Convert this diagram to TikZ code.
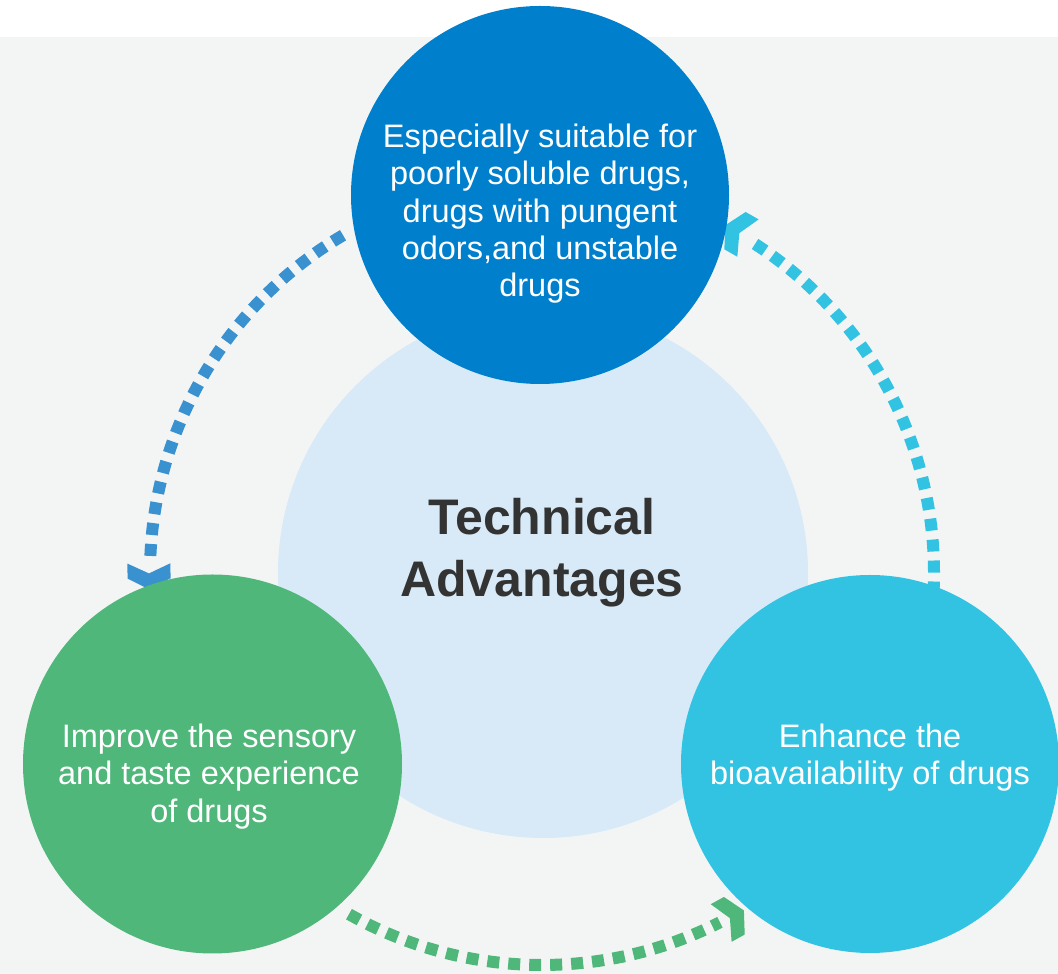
\documentclass[tikz,border=0pt]{standalone}
\usepackage{fontspec}
\setmainfont{Liberation Sans}
\definecolor{bggray}{HTML}{F3F5F5}
\definecolor{coreblue}{HTML}{D8EAF7}
\definecolor{topblue}{HTML}{0080CC}
\definecolor{leftgreen}{HTML}{50B77A}
\definecolor{rightcyan}{HTML}{32C3E3}
\definecolor{dashblue}{HTML}{3A91D0}
\definecolor{titlegray}{HTML}{333333}
\tikzset{
  bubble/.style={circle, inner sep=0pt, minimum size=#1, draw=none},
  bubtext/.style={text=white, align=center, inner sep=0pt,
    font=\fontsize{32.5}{37.3}\selectfont},
  titletext/.style={text=titlegray, align=center, inner sep=0pt,
    font=\fontsize{50}{62}\selectfont\bfseries},
  dasharc/.style={line width=12pt, dash pattern=on 12pt off 9pt}
}
\newcommand\mychev[2]{\fill[#1, shift={(hub)}, rotate=#2]
  (414.5,-13) -- (393,-3) -- (371.5,-13) -- (371.5,2) -- (393,13) -- (414.5,2) -- cycle;}
\begin{document}
\begin{tikzpicture}[x=1pt,y=1pt]
\useasboundingbox (0,0) rectangle (1058,974);
\fill[white] (0,0) rectangle (1058,974);
\fill[bggray] (0,0) rectangle (1058,937);
\coordinate (hub) at (542,401);
% central circle
\node[bubble=530, fill=coreblue] (core) at (543,401) {};
% dashed arcs
\draw[dasharc, dashblue] ([shift={(120.5:392)}]hub) arc[start angle=120.5, end angle=178, radius=392];
\draw[dasharc, leftgreen] ([shift={(240.5:392)}]hub) arc[start angle=240.5, end angle=297, radius=392];
\draw[dasharc, rightcyan] ([shift={(-3:392)}]hub) arc[start angle=-3, end angle=57.5, radius=392];
\mychev{dashblue}{180.5}
\mychev{leftgreen}{299}
\mychev{rightcyan}{60.3}
% outer circles
\node[bubble=378, fill=topblue] (topc) at (540,779) {};
\node[bubble=379, fill=leftgreen] (leftc) at (212.5,210) {};
\node[bubble=378, fill=rightcyan] (rightc) at (870,210) {};
% texts
\node[titletext] (title) at (542,421) {Technical\\Advantages};
\node[bubtext] (toptext) at (540,760.25) {Especially suitable for\\poorly soluble drugs,\\drugs with pungent\\odors,and unstable\\drugs};
\node[bubtext] (lefttext) at (209,197.5) {Improve the sensory\\and taste experience\\of drugs};
\node[bubtext] (righttext) at (870,216.5) {Enhance the\\bioavailability of drugs};
\end{tikzpicture}
\end{document}
